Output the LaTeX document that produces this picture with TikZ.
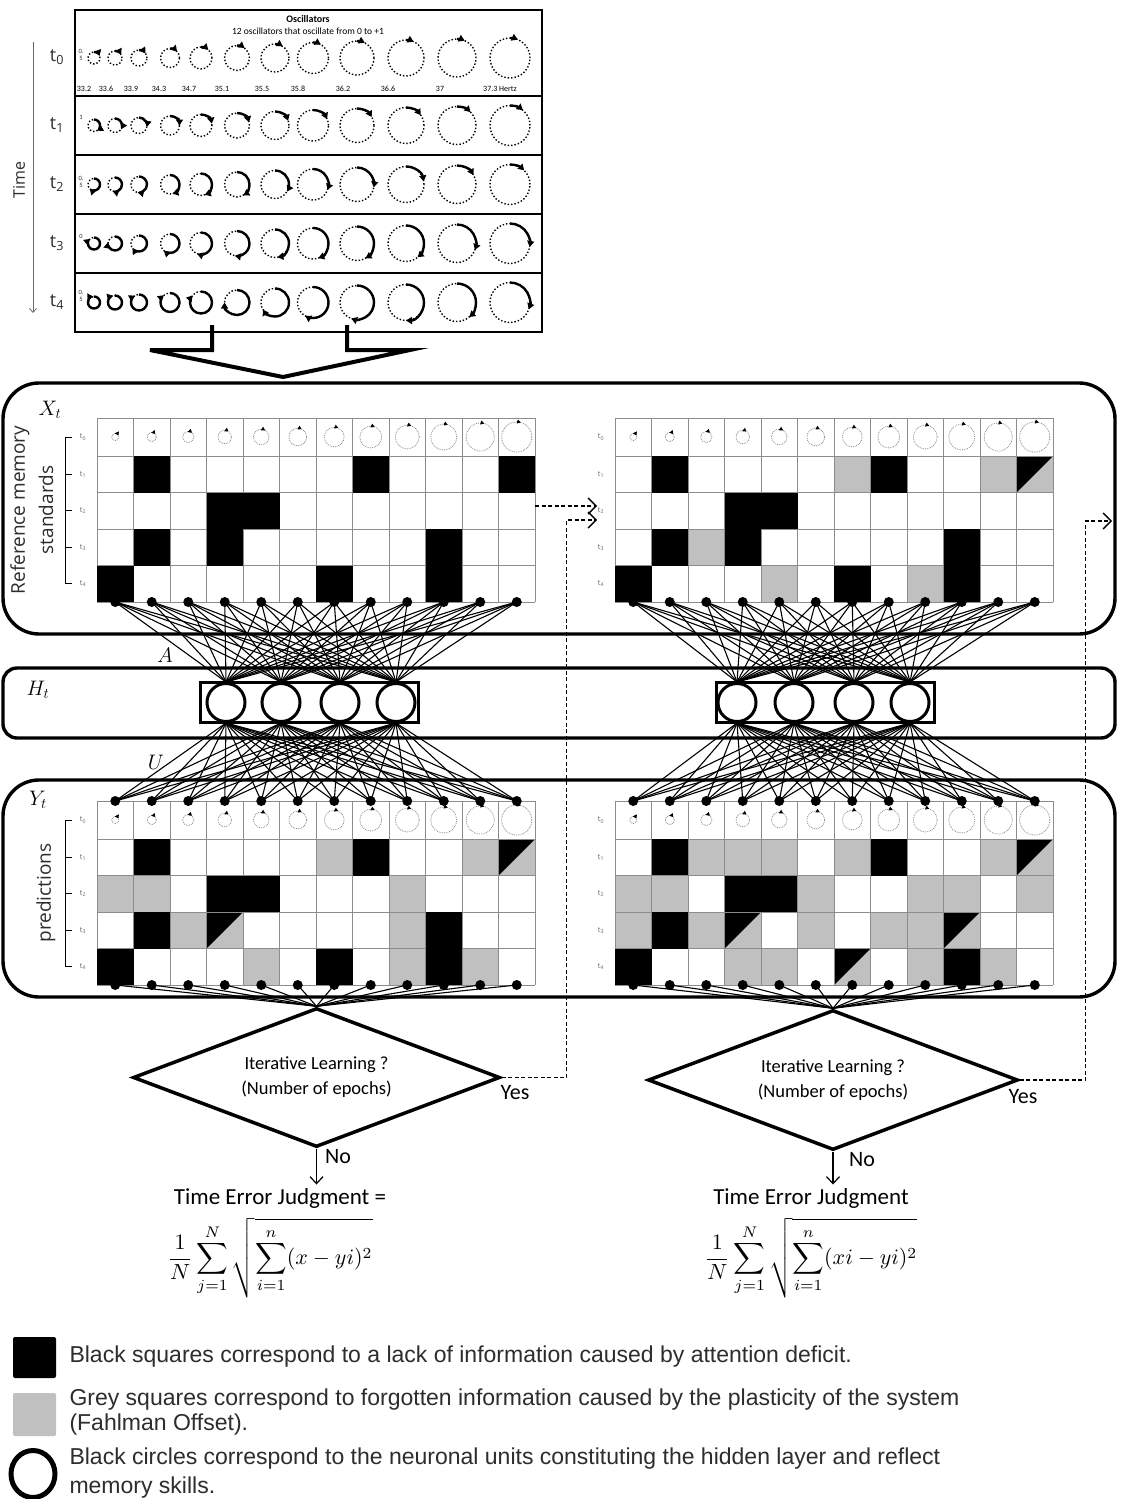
\documentclass[tikz,border=0pt]{standalone}
\usepackage{fix-cm}
\usepackage[no-math]{fontspec}
\setmainfont{Carlito}
\setsansfont{Open Sans}
\newfontfamily\legendfont{Liberation Sans}
\usetikzlibrary{arrows.meta,shapes.geometric,calc}
\definecolor{cellgrey}{RGB}{192,192,192}
\definecolor{gridgrey}{RGB}{140,140,140}
\definecolor{labgrey}{RGB}{105,105,105}
\definecolor{txtgrey}{RGB}{45,45,45}

\begin{document}
\begin{tikzpicture}[x=1pt,y=1pt]
\tikzset{
  panel/.style={line width=3.4pt,rounded corners=36pt},
  hpanel/.style={line width=3.4pt,rounded corners=14pt},
  frame/.style={line width=2pt},
  oscdot/.style={dotted,line width=1.4pt},
  oscarc/.style={line width=2.4pt,-{Triangle[length=6pt,width=7pt]}},
  minidot/.style={gridgrey,densely dotted,line width=0.8pt},
  miniarc/.style={line width=0.8pt,-{Triangle[length=3.5pt,width=4pt]}},
  gridln/.style={gridgrey,line width=0.9pt},
  cellB/.style={fill=black},
  cellG/.style={fill=cellgrey,draw=gridgrey,line width=0.9pt},
  cellD/.style={cellG,path picture={\fill[black] (path picture bounding box.north west)--(path picture bounding box.north east)--(path picture bounding box.south west)--cycle;}},
  dot/.style={circle,fill=black,inner sep=0pt,minimum size=10pt},
  unit/.style={circle,draw,fill=white,line width=3pt,inner sep=0pt,minimum size=38pt},
  unitbox/.style={draw,line width=3pt,minimum width=218pt,minimum height=40pt,inner sep=0pt},
  wire/.style={line width=1.1pt},
  brk/.style={line width=1pt},
  dmd/.style={diamond,draw,line width=3.5pt,inner sep=0pt,aspect=2.6,align=center,font=\fontsize{18.5}{25}\selectfont},
  loopback/.style={line width=1.4pt,dash pattern=on 4pt off 2.5pt,-{Straight Barb[length=8pt,width=16pt]}},
  noarr/.style={line width=1.2pt,-{Straight Barb[length=7pt,width=13pt]}},
  timeax/.style={labgrey,line width=0.8pt,-{Straight Barb[length=4pt,width=7pt]}},
  bigarrow/.style={line width=4pt,miter limit=10},
  hzlab/.style={font=\fontsize{8}{9}\selectfont,inner sep=0pt},
  sidelab/.style={font=\fontsize{6.5}{6.5}\selectfont,align=center,inner sep=0pt,text=txtgrey},
  tbig/.style={font=\sffamily\fontsize{18}{20}\selectfont,text=txtgrey},
  rowlab/.style={font=\sffamily\fontsize{7.5}{8}\selectfont,text=labgrey,inner sep=0pt},
  vlab/.style={font=\sffamily\fontsize{19}{22}\selectfont,rotate=90,text=txtgrey},
  layer/.style={font=\fontsize{21}{24}\selectfont},
  ans/.style={font=\fontsize{22}{26}\selectfont},
  judg/.style={font=\fontsize{23}{27}\selectfont},
  form/.style={scale=2.2,inner sep=0pt},
  legtxt/.style={font=\legendfont\fontsize{23}{25}\selectfont,anchor=west,align=left,text=txtgrey},
}
\fill[white] (0,0) rectangle (1123,-1499);
\useasboundingbox (0,0) rectangle (1123,-1499);

% oscillator bank
\draw[frame] (75,-10) rectangle (542,-332);
\foreach \yy in {96,155,214,273} \draw[frame] (75,-\yy) -- (542,-\yy);
\node[font=\bfseries\fontsize{10}{12}\selectfont] (osct) at (308,-19) {Oscillators};
\node[font=\fontsize{9.5}{11}\selectfont] (oscs) at (308,-31) {12 oscillators that oscillate from 0 to +1};
\foreach \hx/\hz [count=\i] in {84/33.2,106/33.6,131/33.9,159/34.3,189/34.7,222/35.1,262/35.5,298/35.8,343/36.2,388/36.6,440/37,500/37.3 Hertz}
  \node[hzlab] (hz\i) at (\hx,-89) {\hz};
\node[sidelab] (s0) at (81,-55) {0.\\5};
\node[sidelab] (s1) at (81,-117) {1};
\node[sidelab] (s2) at (81,-182) {0.\\5};
\node[sidelab] (s3) at (81,-236) {0};
\node[sidelab] (s4) at (81,-296) {0.\\5};
\foreach \ty [count=\t from 0] in {57,125,184,243,302}
  \node[tbig] (tt\t) at (57,-\ty) {t\textsubscript{\t}};
\foreach \cx/\rr/\sa/\sb/\sc/\sd/\se in {94/6/70/150/225/320/355,115/7/62/120/200/280/345,
    139/8/55/100/190/235/330,170/9.5/48/90/165/220/320,201/11/42/80/160/200/310,
    237/12.5/37/75/150/190/270,275/14/33/70/120/170/240,313/15.5/30/65/110/160/210,
    357/17/27/60/100/150/200,406/18/25/55/80/140/180,457/19/24/45/60/110/140,510/20/23/40/45/100/110}{
  \foreach \ty/\sw in {58/\sa,125.5/\sb,184.5/\sc,243.5/\sd,302.5/\se}{
    \draw[oscdot] (\cx,-\ty) circle[radius=\rr];
    \draw[oscarc] (\cx,{-\ty+\rr}) arc[start angle=90,end angle={90-\sw},radius=\rr];
  }
}
\coordinate (tbeg) at (33,-42);
\coordinate (tend) at (33,-313);
\draw[timeax] (tbeg) -- (tend);
\node[font=\sffamily\fontsize{16}{18}\selectfont,rotate=90,text=txtgrey] (time) at (19,-180) {Time};
\draw[bigarrow] (212,-325) -- (212,-350) -- (150,-350) -- (283,-377) -- (410,-350) -- (347,-350) -- (347,-325);

% layer panels
\draw[panel] (3,-383) rectangle (1115,-634);
\draw[hpanel] (3,-668) rectangle (1115,-738);
\draw[panel] (3,-780) rectangle (1115,-997);
\node[layer] (lx) at (50,-410) {$X_t$};
\node[layer] (lh) at (38,-690) {$H_t$};
\node[layer] (ly) at (38,-800) {$Y_t$};
\node[layer] (la) at (165,-655) {$A$};
\node[layer] (lu) at (156,-762) {$U$};
\node[vlab] (refa) at (20,-510) {Reference memory};
\node[vlab] (refb) at (46,-510) {standards};
\node[vlab] (pred) at (46,-893) {predictions};

% grids
\foreach \gx/\gy/\gn in {97/418/xl,615/418/xr,97/801/yl,615/801/yr}{
  \foreach \c in {0,...,12}
    \draw[gridln] ({\gx+\c*36.5},-\gy) -- ++(0,-184);
  \foreach \r in {0,38,74.5,111,147.5,184}
    \draw[gridln] (\gx,-\gy-\r) -- ++(438,0);
  \foreach \c in {1,...,12}{
    \pgfmathsetmacro\rr{2.5+\c*1.05}
    \pgfmathsetmacro\ms{230/\rr}
    \draw[minidot] ({\gx+\c*36.5-18.25},{-\gy-19}) circle[radius=\rr];
    \draw[miniarc] ({\gx+\c*36.5-18.25},{-\gy-19+\rr}) arc[start angle=90,end angle={90-\ms},radius=\rr];
  }
  \foreach \r/\ry in {0/19,1/56.25,2/92.75,3/129.25,4/165.75}
    \node[rowlab] (\gn-t\r) at ({\gx-14},{-\gy-\ry}) {t\textsubscript{\r}};
}
\foreach \gy in {418,801}{
  \draw[brk] (72,{-\gy-19}) -- (65,{-\gy-19}) -- (65,{-\gy-165.75}) -- (72,{-\gy-165.75});
  \foreach \ry in {56.25,92.75,129.25} \draw[brk] (65,{-\gy-\ry}) -- (72,{-\gy-\ry});
}
\foreach \c/\r/\k in {2/1/B,8/1/B,12/1/B,4/2/B,5/2/B,2/3/B,4/3/B,10/3/B,1/4/B,7/4/B,10/4/B}
  \path[cell\k] ({97+(\c-1)*36.5},{-456-(\r-1)*36.5}) rectangle ++(36.5,-36.5);
\foreach \c/\r/\k in {2/1/B,7/1/G,8/1/B,11/1/G,12/1/D,4/2/B,5/2/B,2/3/B,3/3/G,4/3/B,10/3/B,
    1/4/B,5/4/G,7/4/B,9/4/G,10/4/B}
  \path[cell\k] ({615+(\c-1)*36.5},{-456-(\r-1)*36.5}) rectangle ++(36.5,-36.5);
\foreach \c/\r/\k in {2/1/B,7/1/G,8/1/B,11/1/G,12/1/D,1/2/G,2/2/G,4/2/B,5/2/B,9/2/G,
    2/3/B,3/3/G,4/3/D,9/3/G,10/3/B,1/4/B,5/4/G,7/4/B,9/4/G,10/4/B,11/4/G}
  \path[cell\k] ({97+(\c-1)*36.5},{-839-(\r-1)*36.5}) rectangle ++(36.5,-36.5);
\foreach \c/\r/\k in {2/1/B,3/1/G,4/1/G,5/1/G,7/1/G,8/1/B,11/1/G,12/1/D,
    1/2/G,2/2/G,4/2/B,5/2/B,6/2/G,9/2/G,10/2/G,12/2/G,
    1/3/G,2/3/B,3/3/G,4/3/D,6/3/G,8/3/G,9/3/G,10/3/D,
    1/4/B,4/4/G,5/4/G,7/4/D,9/4/G,10/4/B,11/4/G}
  \path[cell\k] ({615+(\c-1)*36.5},{-839-(\r-1)*36.5}) rectangle ++(36.5,-36.5);

% units of the grids
\foreach \c in {1,...,12}{
  \node[dot] (xl-\c) at ({97+\c*36.5-18.25},-602) {};
  \node[dot] (xr-\c) at ({615+\c*36.5-18.25},-602) {};
  \node[dot] (ylt-\c) at ({97+\c*36.5-18.25},-801) {};
  \node[dot] (yrt-\c) at ({615+\c*36.5-18.25},-801) {};
  \node[dot] (ylb-\c) at ({97+\c*36.5-18.25},-985) {};
  \node[dot] (yrb-\c) at ({615+\c*36.5-18.25},-985) {};
}

% hidden layer
\node[unitbox] (hlbox) at (309,-702.5) {};
\node[unitbox] (hrbox) at (825.5,-702.5) {};
\foreach \h/\hx in {1/226,2/281,3/340,4/396} \node[unit] (hl\h) at (\hx,-702.5) {};
\foreach \h/\hx in {1/737,2/794,3/854,4/910} \node[unit] (hr\h) at (\hx,-702.5) {};

% decisions
\node[dmd,minimum width=367pt,minimum height=139pt] (dl) at (316.5,-1077.5) {Iterative Learning ?\\(Number of epochs)};
\node[dmd,minimum width=370pt,minimum height=140pt] (dr) at (833,-1080) {Iterative Learning ?\\(Number of epochs)};

\foreach \c in {1,...,12}{
  \foreach \h in {1,...,4}{
    \draw[wire] (xl-\c.center) -- (hl\h.north);
    \draw[wire] (xr-\c.center) -- (hr\h.north);
    \draw[wire] (hl\h.south) -- (ylt-\c.center);
    \draw[wire] (hr\h.south) -- (yrt-\c.center);
  }
  \draw[wire] (ylb-\c.center) -- (dl.north);
  \draw[wire] (yrb-\c.center) -- (dr.north);
}

\node[ans] (yesl) at (515,-1093) {Yes};
\node[ans] (yesr) at (1023,-1097) {Yes};
\node[ans] (nol) at (338,-1157) {No};
\node[ans] (nor) at (862,-1160) {No};
\node[judg] (jl) at (280,-1198) {Time Error Judgment =};
\node[judg] (jr) at (811,-1198) {Time Error Judgment};
\draw[noarr] (dl.south) -- (dl.south |- jl.north);
\draw[noarr] (dr.south) -- (dr.south |- jr.north);
\node[form] (fl) at (270,-1258) {$\displaystyle \frac{1}{N}\sum_{j=1}^{N}\sqrt{\sum_{i=1}^{n}(x-yi)^2}$};
\node[form] (fr) at (811,-1258) {$\displaystyle \frac{1}{N}\sum_{j=1}^{N}\sqrt{\sum_{i=1}^{n}(xi-yi)^2}$};

% loop back to the next epoch
\coordinate (xlout) at (535,-506);
\coordinate (xrin) at (597,-506);
\coordinate (xrin2) at (597,-520);
\coordinate (xrout) at (1112,-521);
\draw[loopback] (xlout) -- (xrin);
\draw[loopback] (dl.east) -- ++(65,0) |- (xrin2);
\draw[loopback] (dr.east) -- ++(66,0) |- (xrout);

% key
\node[fill=black,rounded corners=2pt,minimum width=43pt,minimum height=41pt,inner sep=0pt] (kblack) at (34.5,-1357.5) {};
\node[fill=cellgrey,rounded corners=2pt,minimum width=43pt,minimum height=43pt,inner sep=0pt] (kgrey) at (34.5,-1414.5) {};
\node[ellipse,draw,line width=5pt,minimum width=44pt,minimum height=47pt,inner sep=0pt] (kunit) at (33,-1474) {};
\node[legtxt] (tblack) at (66,-1357) {Black squares correspond to a lack of information caused by attention deficit.};
\node[legtxt] (tgrey) at (66,-1412) {Grey squares correspond to forgotten information caused by the plasticity of the system\\(Fahlman Offset).};
\node[legtxt,font=\legendfont\fontsize{23}{29}\selectfont] (tunit) at (66,-1473) {Black circles correspond to the neuronal units constituting the hidden layer and reflect\\memory skills.};
\end{tikzpicture}
\end{document}
